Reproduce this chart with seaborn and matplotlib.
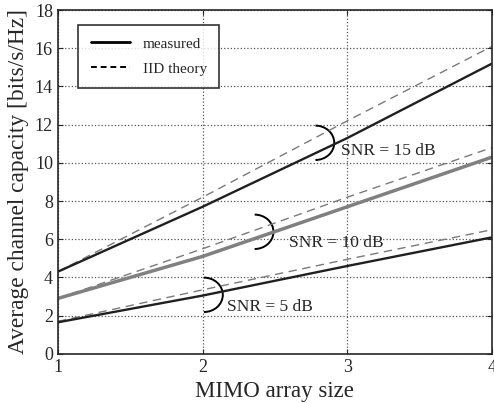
import pandas as pd
import seaborn as sns
import matplotlib.pyplot as plt
from matplotlib.patches import Arc

# MIMO array size
array_size = [1, 2, 3, 4]

# measured capacities [bits/s/Hz]
meas_15 = [4.3, 7.7, 11.3, 15.2]
meas_10 = [2.9, 5.1, 7.7, 10.3]
meas_5 = [1.65, 3.05, 4.6, 6.1]

# IID theory capacities
iid_15 = [4.3, 8.2, 12.2, 16.1]
iid_10 = [2.9, 5.5, 8.2, 10.8]
iid_5 = [1.7, 3.35, 4.95, 6.5]

snr_labels = ['SNR = 15 dB', 'SNR = 10 dB', 'SNR = 5 dB']

sns.set_style('ticks')
plt.rcParams['font.family'] = ['Liberation Serif', 'DejaVu Serif']

fig = plt.figure(figsize=(4.94, 4.03), dpi=100)
ax = fig.add_axes([0.117, 0.122, 0.879, 0.853])

# Dashed IID theory curves
for vals in [iid_15, iid_10, iid_5]:
    df = pd.DataFrame({'size': array_size, 'cap': vals})
    sns.lineplot(data=df, x='size', y='cap', ax=ax, color='#7a7a7a',
                 lw=1.0, linestyle=(0, (6, 4)))

# Solid measured curves
sns.lineplot(data=pd.DataFrame({'size': array_size, 'cap': meas_15}),
             x='size', y='cap', ax=ax, color='#202020', lw=1.7)
sns.lineplot(data=pd.DataFrame({'size': array_size, 'cap': meas_10}),
             x='size', y='cap', ax=ax, color='#808080', lw=2.5)
sns.lineplot(data=pd.DataFrame({'size': array_size, 'cap': meas_5}),
             x='size', y='cap', ax=ax, color='#202020', lw=1.7)

# Legend (proxy lines)
h1, = ax.plot([], [], color='black', lw=2.0, label='measured')
h2, = ax.plot([], [], color='black', lw=1.4, linestyle=(0, (3, 2)), label='IID theory')
leg = ax.legend(handles=[h1, h2], loc='upper left', bbox_to_anchor=(0.03, 0.98),
                fontsize=11, frameon=True, fancybox=False, handlelength=2.6,
                borderpad=0.8, labelspacing=0.75, handletextpad=0.8)
leg.get_frame().set_edgecolor('black')
leg.get_frame().set_linewidth(1.2)

# SNR annotations with bracket arcs
arc_pos = [(2.78, 11.05), (2.36, 6.39), (2.01, 3.09)]
text_pos = [(2.96, 10.6), (2.60, 5.8), (2.17, 2.45)]
for (cx, cy), (tx, ty), lab in zip(arc_pos, text_pos, snr_labels):
    ax.add_patch(Arc((cx, cy), 0.26, 1.8, theta1=-90, theta2=90,
                     color='black', lw=1.4))
    ax.text(tx, ty, lab, fontsize=12.5, va='center', ha='left')

ax.set_xlim(1, 4)
ax.set_ylim(0, 18)
ax.set_xticks(array_size)
ax.set_yticks(range(0, 19, 2))
ax.grid(True, linestyle=':', color='#555555', lw=0.9)
ax.tick_params(direction='in', top=True, right=True, labelsize=13)
ax.set_xlabel('MIMO array size', fontsize=16.5)
ax.set_ylabel('Average channel capacity [bits/s/Hz]', fontsize=16.8, labelpad=4)
for s in ax.spines.values():
    s.set_linewidth(1.2)

plt.savefig('out.png', dpi=100)
